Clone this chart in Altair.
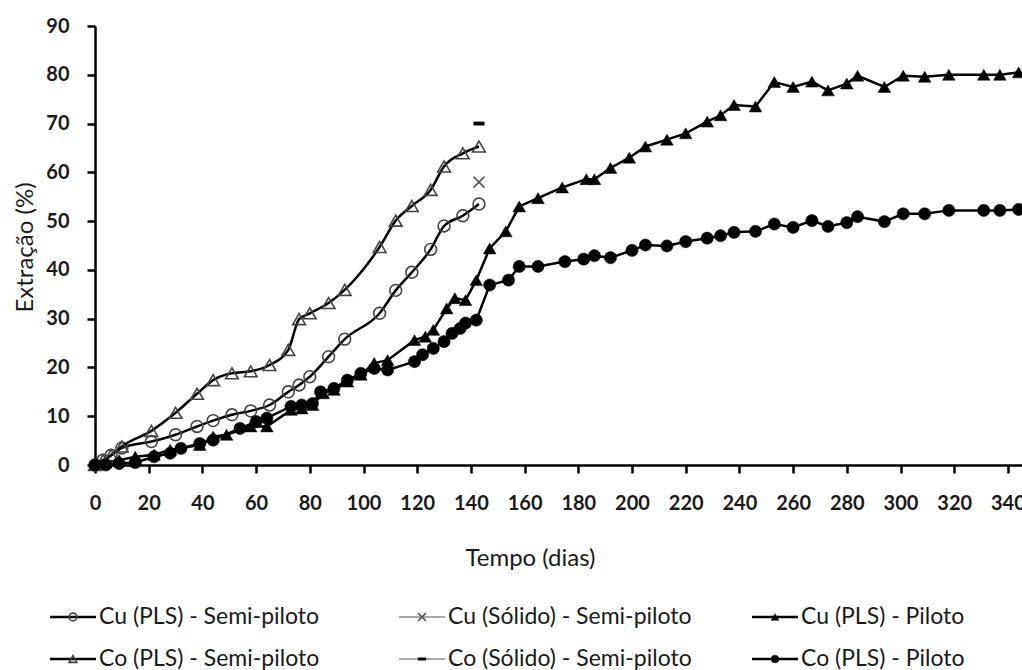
import altair as alt
import pandas as pd

# ---------------- data ----------------
cu_semi_dias = [0, 3, 6, 10, 21, 30, 38, 44, 51, 58, 65, 72, 76, 80, 87, 93, 106, 112, 118, 125, 130, 137, 143]
cu_semi_ext = [0, 1, 2, 3.5, 4.8, 6.2, 7.9, 9.1, 10.3, 11.1, 12.3, 15, 16.4, 18.1, 22.2, 25.8, 31.1, 35.8, 39.5, 44.2, 49, 51.1, 53.5]

co_semi_dias = [0, 3, 6, 10, 21, 30, 38, 44, 51, 58, 65, 72, 76, 80, 87, 93, 106, 112, 118, 125, 130, 137, 143]
co_semi_ext = [0, 1, 2, 3.8, 7, 10.7, 14.6, 17.4, 18.8, 19.2, 20.5, 23.6, 29.9, 31.1, 33.2, 35.9, 44.7, 50.1, 53.1, 56.4, 61.2, 63.9, 65.3]

cu_solido_dias = [143]
cu_solido_ext = [58]
co_solido_dias = [143]
co_solido_ext = [70]

cu_piloto_dias = [0, 4, 9, 15, 22, 28, 39, 44, 49, 58,
                  64, 73, 77, 81, 85, 89, 94, 99, 104, 109,
                  119, 123, 126, 131, 134, 138, 142, 147, 153, 158,
                  165, 174, 183, 186, 192, 199, 205, 213, 220, 228,
                  233, 238, 246, 253, 260, 267, 273, 280, 284, 294,
                  301, 309, 318, 331, 337, 344]
cu_piloto_ext = [0, 0.5, 1, 1.7, 2.1, 3.1, 4.1, 5.8, 6.2, 7.9,
                 7.9, 11.3, 11.6, 12.3, 14.7, 15.4, 17.1, 18.5, 20.9, 21.5,
                 25.6, 26.3, 27.7, 32.1, 34.2, 33.8, 37.9, 44.4, 47.9, 53,
                 54.7, 56.9, 58.6, 58.6, 60.9, 63, 65.3, 66.7, 68, 70.4,
                 71.7, 73.8, 73.5, 78.5, 77.5, 78.6, 76.8, 78.2, 79.8, 77.5,
                 79.8, 79.6, 80, 80, 80, 80.5]

co_piloto_dias = [0, 4, 9, 15, 22, 28, 32, 39, 44, 54,
                  60, 64, 73, 77, 81, 84, 89, 94, 99, 104,
                  109, 119, 122, 126, 130, 133, 136, 138, 142, 147,
                  154, 158, 165, 175, 182, 186, 192, 200, 205, 213,
                  220, 228, 233, 238, 246, 253, 260, 267, 273, 280,
                  284, 294, 301, 309, 318, 331, 337, 344]
co_piloto_ext = [0, 0, 0.3, 0.5, 1.7, 2.4, 3.4, 4.4, 5.1, 7.5,
                 8.9, 9.6, 12, 12.3, 12.6, 15, 15.7, 17.4, 18.8, 19.8,
                 19.5, 21.2, 22.6, 23.9, 25.3, 27, 28, 29.1, 29.7, 36.9,
                 37.9, 40.7, 40.7, 41.7, 42.2, 42.9, 42.5, 44, 45.1, 44.9,
                 45.8, 46.5, 47, 47.7, 47.9, 49.4, 48.7, 50.1, 48.9, 49.7,
                 50.9, 49.9, 51.5, 51.5, 52.2, 52.2, 52.2, 52.4]

series_names = ["Cu (PLS) - Semi-piloto", "Cu (Sólido) - Semi-piloto", "Cu (PLS) - Piloto",
                "Co (PLS) - Semi-piloto", "Co (Sólido) - Semi-piloto", "Co (PLS) - Piloto"]
x_ticks = list(range(0, 341, 20))
y_ticks = list(range(0, 91, 10))

# ---------------- styling ----------------
FONT = "Lato"
TXT = "#1a1a1a"
W, H = 927, 439
X_SHAPE = "M-1,-1L1,1M-1,1L1,-1"
DASH_SHAPE = "M-1,-0.32L1,-0.32L1,0.32L-1,0.32Z"

styles = {
    "Cu (PLS) - Semi-piloto": dict(d=cu_semi_dias, v=cu_semi_ext, line=True, interp="monotone",
                                   shape="circle", filled=False, stroke="#444", size=140, lw=2.5),
    "Cu (Sólido) - Semi-piloto": dict(d=cu_solido_dias, v=cu_solido_ext, line=False, interp="linear",
                                      shape=X_SHAPE, filled=False, stroke="#555", size=120, lw=1.2),
    "Cu (PLS) - Piloto": dict(d=cu_piloto_dias, v=cu_piloto_ext, line=True, interp="linear",
                              shape="triangle-up", filled=True, stroke="black", size=160, lw=2.5),
    "Co (PLS) - Semi-piloto": dict(d=co_semi_dias, v=co_semi_ext, line=True, interp="monotone",
                                   shape="triangle-up", filled=False, stroke="#444", size=160, lw=2.5),
    "Co (Sólido) - Semi-piloto": dict(d=co_solido_dias, v=co_solido_ext, line=False, interp="linear",
                                      shape=DASH_SHAPE, filled=True, stroke="black", size=110, lw=1.2),
    "Co (PLS) - Piloto": dict(d=co_piloto_dias, v=co_piloto_ext, line=True, interp="linear",
                              shape="circle", filled=True, stroke="black", size=150, lw=2.5),
}

x_enc = alt.X("dias:Q",
              scale=alt.Scale(domain=[0, 345.25], nice=False, zero=False),
              axis=alt.Axis(values=x_ticks, grid=False, tickSize=8, tickWidth=2.5,
                            domainWidth=2.5, domainColor="black", tickColor="black",
                            labelFont=FONT, labelFontSize=20, labelFontWeight="bold",
                            labelColor=TXT, labelPadding=20, labelFlush=False, labelOverlap=False,
                            title="Tempo (dias)", titleFont=FONT, titleFontSize=24,
                            titleFontWeight="normal", titleColor=TXT,
                            titleX=435, titleY=93, titleBaseline="middle", titleAlign="center"))
y_enc = alt.Y("ext:Q",
              scale=alt.Scale(domain=[0, 90], nice=False),
              axis=alt.Axis(values=y_ticks, grid=False, tickSize=8, tickWidth=2.5,
                            domainWidth=2.5, domainColor="black", tickColor="black",
                            labelFont=FONT, labelFontSize=20, labelFontWeight="bold",
                            labelColor=TXT, labelPadding=18, labelFlush=False,
                            title="Extração (%)", titleFont=FONT, titleFontSize=24,
                            titleFontWeight="normal", titleColor=TXT,
                            titleX=-70, titleY=221, titleAngle=270,
                            titleBaseline="middle", titleAlign="center"))

layers = []
legend_layers = []
leg_x0 = [-45, 304, 657]
leg_len = 46
leg_y = [591, 633]

for i, name in enumerate(series_names):
    s = styles[name]
    df = pd.DataFrame({"dias": s["d"], "ext": s["v"], "serie": name})
    if s["line"]:
        layers.append(alt.Chart(df).mark_line(color="black", strokeWidth=s["lw"],
                                              interpolate=s["interp"]).encode(x=x_enc, y=y_enc))
    pt_kwargs = dict(shape=s["shape"], size=s["size"], filled=s["filled"])
    if s["filled"]:
        pt_kwargs.update(fill="black", stroke="black", strokeWidth=0.5, opacity=1)
    else:
        pt_kwargs.update(stroke=s["stroke"], strokeWidth=1.6, opacity=1)
    layers.append(alt.Chart(df).mark_point(**pt_kwargs).encode(x=x_enc, y=y_enc))

    # legend entry
    col, row = i % 3, i // 3
    x0 = leg_x0[col]
    y0 = leg_y[row]
    one = pd.DataFrame({"serie": [name]})
    legend_layers.append(alt.Chart(one).mark_rule(
        color="black" if s["line"] else "#555", strokeWidth=s["lw"]).encode(
        x=alt.value(x0), x2=alt.value(x0 + leg_len), y=alt.value(y0)))
    lk = dict(pt_kwargs)
    lk["size"] = 60
    legend_layers.append(alt.Chart(one).mark_point(**lk).encode(
        x=alt.value(x0 + leg_len / 2), y=alt.value(y0)))
    legend_layers.append(alt.Chart(one).mark_text(
        align="left", baseline="middle", font=FONT, fontSize=23, color=TXT).encode(
        x=alt.value(x0 + leg_len + 3), y=alt.value(y0), text=alt.Text("serie:N")))

chart = alt.layer(*layers, *legend_layers).properties(
    width=W, height=H,
    autosize=alt.AutoSizeParams(type="none"),
    padding={"left": 95, "top": 26, "right": 0, "bottom": 205},
    background="white",
).configure_view(stroke=None)

chart.save("out.html", embed_options={"renderer": "svg", "actions": False})
